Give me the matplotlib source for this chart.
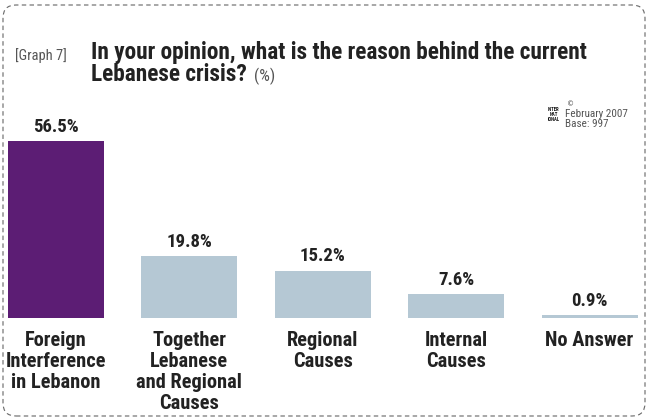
import matplotlib
matplotlib.use("Agg")
import matplotlib.pyplot as plt
from matplotlib.patches import FancyBboxPatch
from matplotlib import font_manager
from matplotlib.font_manager import FontProperties

categories = ["Foreign\nInterference\nin Lebanon",
              "Together\nLebanese\nand Regional\nCauses",
              "Regional\nCauses",
              "Internal\nCauses",
              "No Answer"]
values = [56.5, 19.8, 15.2, 7.6, 0.9]
value_labels = ["56.5%", "19.8%", "15.2%", "7.6%", "0.9%"]
colors = ["#5c1d74", "#b5c8d4", "#b5c8d4", "#b5c8d4", "#b5c8d4"]
title_lines = ["In your opinion, what is the reason behind the current",
               "Lebanese crisis?"]
title_unit = "(%)"
graph_tag = "[Graph 7]"
source_lines = ["February 2007", "Base: 997"]

# ---------- fonts: prefer a condensed / narrow sans ----------
PRIORITY = ["robotocondensed", "liberationsansnarrow", "dejavusanscondensed",
            "opensanscondensed", "notosanscondensed", "condensed", "narrow"]

def find_font(bold):
    found = {}
    for f in font_manager.fontManager.ttflist:
        n = f.fname.lower().replace(" ", "").replace("_", "").replace("-", "")
        base = n.rsplit("/", 1)[-1]
        if "condensed" not in base and "narrow" not in base:
            continue
        if "mono" in base or ("serif" in base and "sans" not in base):
            continue
        if "italic" in base or "oblique" in base:
            continue
        is_bold = "bold" in base and "semibold" not in base and "extrabold" not in base
        if bold != is_bold:
            continue
        if not bold and any(k in base for k in ("light", "thin", "medium", "black", "semi", "extra")):
            continue
        for p, key in enumerate(PRIORITY):
            if key in base:
                if p not in found:
                    found[p] = f.fname
                break
    if found:
        return found[min(found)]
    return None

bpath = find_font(True)
rpath = find_font(False)

def bold_fp():
    return FontProperties(fname=bpath) if bpath else FontProperties(family="Roboto", weight="bold")

def reg_fp():
    return FontProperties(fname=rpath) if rpath else FontProperties(family="Roboto")

W, H = 648, 420
fig = plt.figure(figsize=(W / 100, H / 100), dpi=100)
renderer = fig.canvas.get_renderer()

def fx(px):
    return px / W

def fy(py):
    return 1 - py / H

def fit(t, target_px):
    w = t.get_window_extent(renderer).width
    t.set_fontsize(t.get_fontsize() * target_px / w)
    return t.get_fontsize()

def size_for(text, fp, target_px):
    t = fig.text(0, 0, text, fontproperties=fp, fontsize=10)
    s = fit(t, target_px)
    t.remove()
    return s

# ---------- border ----------
border = FancyBboxPatch((0.03, 0.04), 6.42, 4.11,
                        boxstyle="round,pad=0,rounding_size=0.13",
                        transform=fig.dpi_scale_trans, fill=False,
                        edgecolor="#666666", linewidth=0.8,
                        linestyle=(0, (4, 3)))
fig.patches.append(border)

# ---------- bars: baseline at 318px, top at 118px ----------
ax = fig.add_axes([0, fy(318), 1, (318 - 118) / H])
ax.set_xlim(-0.42, 4.438)
ax.set_ylim(0, 64)
ax.axis("off")

x = list(range(len(values)))
ax.bar(x, values, width=0.72, color=colors)

val_size = size_for("56.5%", bold_fp(), 46)
cat_size = size_for("Interference", bold_fp(), 100)
line_h = fig.text(0, 0, "lp", fontproperties=bold_fp(), fontsize=cat_size)
lh = line_h.get_window_extent(renderer).height
line_h.remove()

for i, (v, lab) in enumerate(zip(values, value_labels)):
    ax.annotate(lab, (i, v), xytext=(0, 6.5), textcoords="offset points",
                ha="center", va="baseline", fontproperties=bold_fp(),
                fontsize=val_size, color="#222222")
    ax.annotate(categories[i], (i, 0), xytext=(0, -9.4), textcoords="offset points",
                ha="center", va="top", fontproperties=bold_fp(),
                fontsize=cat_size, color="#222222", linespacing=21.5 / lh,
                multialignment="center", annotation_clip=False)

# ---------- titles ----------
tg = fig.text(fx(15), fy(60), graph_tag, fontproperties=reg_fp(), fontsize=10,
              color="#555555", ha="left", va="baseline")
fit(tg, 52)
t1 = fig.text(fx(91), fy(59), title_lines[0], fontproperties=bold_fp(), fontsize=16,
              color="#222222", ha="left", va="baseline")
tsize = fit(t1, 496)
t2 = fig.text(fx(91), fy(81), title_lines[1], fontproperties=bold_fp(), fontsize=tsize,
              color="#222222", ha="left", va="baseline")
x_end = t2.get_window_extent(renderer).x1
tu = fig.text((x_end + 7) / W, fy(81), title_unit, fontproperties=reg_fp(),
              fontsize=tsize * 0.72, color="#555555", ha="left", va="baseline")

# ---------- source block ----------
s1 = fig.text(fx(565), fy(117), source_lines[0], fontproperties=reg_fp(), fontsize=8,
              color="#555555", ha="left", va="baseline")
ssize = fit(s1, 63)
fig.text(fx(565), fy(127), source_lines[1], fontproperties=reg_fp(), fontsize=ssize,
         color="#555555", ha="left", va="baseline")
fig.text(fx(554), fy(121), "INTER\nNAT\nIONAL", fontproperties=bold_fp(), fontsize=3.4,
         color="#111111", ha="center", va="baseline", linespacing=0.95)
fig.text(fx(567), fy(106), "\u00a9", fontsize=5, color="#333333", ha="left", va="baseline")

fig.savefig("out.png", dpi=100)
